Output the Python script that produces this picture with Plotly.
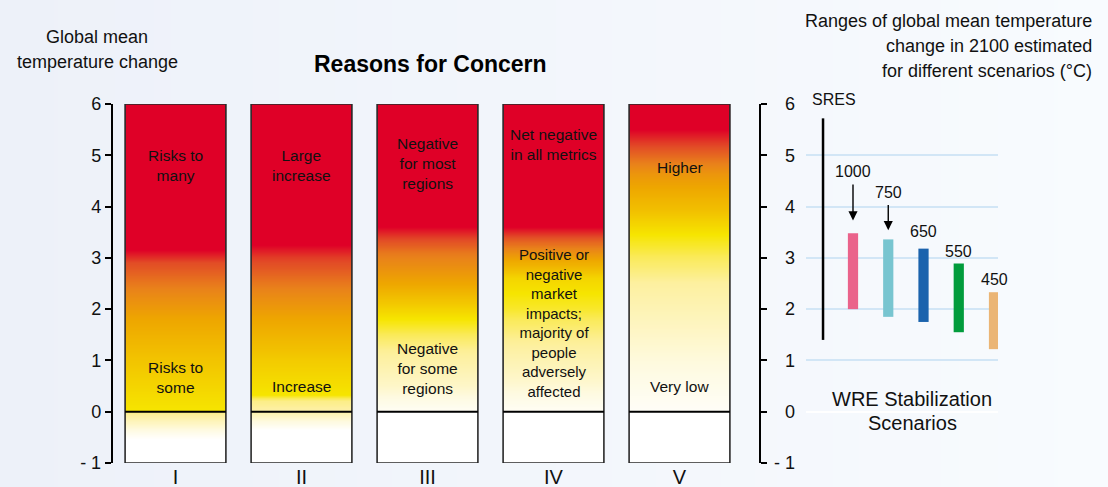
import base64
import struct
import zlib

import numpy as np
import plotly.graph_objects as go

# ---------------- data ----------------
concern_labels = ["I", "II", "III", "IV", "V"]

# gradient stops per reason for concern: (temperature change, risk level 0..1)
stops_I_temp = [-1.0, -0.55, -0.3, -0.001, 0.0, 1.0, 1.8, 2.4, 2.9, 3.15, 6.0]
stops_I_level = [0.0, 0.0, 0.15, 0.33, 0.5, 0.6, 0.7, 0.8, 0.9, 1.0, 1.0]
stops_II_temp = [-1.0, -0.36, -0.2, -0.001, 0.2, 0.32, 1.0, 1.8, 2.4, 3.0, 3.25, 6.0]
stops_II_level = [0.0, 0.0, 0.12, 0.26, 0.32, 0.5, 0.58, 0.7, 0.8, 0.92, 1.0, 1.0]
stops_III_temp = [-1.0, -0.001, 0.0, 0.5, 1.2, 1.8, 2.5, 3.1, 3.4, 3.6, 6.0]
stops_III_level = [0.0, 0.0, 0.04, 0.18, 0.3, 0.5, 0.7, 0.82, 0.92, 1.0, 1.0]
stops_IV_temp = [-1.0, -0.001, 0.0, 0.6, 1.4, 2.0, 2.6, 3.0, 3.3, 3.6, 6.0]
stops_IV_level = [0.0, 0.0, 0.04, 0.17, 0.3, 0.45, 0.55, 0.72, 0.85, 1.0, 1.0]
stops_V_temp = [-1.0, -0.001, 0.0, 0.9, 2.5, 3.45, 3.95, 4.65, 5.1, 5.5, 6.0]
stops_V_level = [0.0, 0.0, 0.03, 0.12, 0.28, 0.5, 0.62, 0.75, 0.88, 1.0, 1.0]

upper_text = ["Risks to<br>many", "Large<br>increase", "Negative<br>for most<br>regions",
              "Net negative<br>in all metrics", "Higher"]
upper_text_y = [4.8, 4.8, 4.84, 5.21, 4.77]
lower_text = ["Risks to<br>some", "Increase", "Negative<br>for some<br>regions",
              "Positive or<br>negative<br>market<br>impacts;<br>majority of<br>people<br>adversely<br>affected",
              "Very low"]
lower_text_y = [0.67, 0.5, 0.85, 1.73, 0.5]

sres_range = [1.4, 5.72]
wre_scenarios = ["1000", "750", "650", "550", "450"]
wre_low = [2.0, 1.85, 1.75, 1.55, 1.22]
wre_high = [3.48, 3.36, 3.18, 2.89, 2.33]
wre_colors = ["#ea638b", "#78c5d0", "#1b63ad", "#029c3c", "#ebb575"]

y_ticks = [-1, 0, 1, 2, 3, 4, 5, 6]
y_ticktext = ["- 1", "0", "1", "2", "3", "4", "5", "6"]

# ---------------- helpers ----------------
W, H = 1108, 487


def px_x(p):
    return p / W


def px_y(p):
    return 1 - p / H


def gradient_png(c0, c1, w=256):
    row = bytearray([0])
    for i in range(w):
        t = i / (w - 1)
        for a, b in zip(c0, c1):
            row.append(int(round(a + (b - a) * t)))
    raw = bytes(row)

    def chunk(tag, data):
        return (struct.pack(">I", len(data)) + tag + data +
                struct.pack(">I", zlib.crc32(tag + data) & 0xFFFFFFFF))

    ihdr = struct.pack(">IIBBBBB", w, 1, 8, 2, 0, 0, 0)
    png = (b"\x89PNG\r\n\x1a\n" + chunk(b"IHDR", ihdr) +
           chunk(b"IDAT", zlib.compress(raw)) + chunk(b"IEND", b""))
    return "data:image/png;base64," + base64.b64encode(png).decode()


FONT = "Liberation Sans, Arial, sans-serif"
y_dom = [px_y(463), px_y(104)]

fig = go.Figure()

# burning embers
all_stops = [(stops_I_temp, stops_I_level), (stops_II_temp, stops_II_level),
             (stops_III_temp, stops_III_level), (stops_IV_temp, stops_IV_level),
             (stops_V_temp, stops_V_level)]
y_edges = np.linspace(-1, 6, 701)
y_cent = (y_edges[:-1] + y_edges[1:]) / 2
half = 0.4
for i, (st, lv) in enumerate(all_stops):
    z = np.interp(y_cent, st, lv).reshape(-1, 1)
    fig.add_trace(go.Heatmap(x=[i - half, i + half], y=y_edges, z=z, coloraxis="coloraxis",
                             hoverinfo="skip", xaxis="x", yaxis="y"))

# dummy traces so overlay axes render
fig.add_trace(go.Scatter(x=[None], y=[None], xaxis="x", yaxis="y3", showlegend=False, hoverinfo="skip"))
fig.add_trace(go.Scatter(x=[None], y=[None], xaxis="x", yaxis="y4", showlegend=False, hoverinfo="skip"))

# right panel: SRES + WRE bars
fig.add_trace(go.Scatter(x=[0.15, 0.15], y=sres_range, mode="lines",
                         line=dict(color="black", width=2.5), xaxis="x2", yaxis="y2",
                         showlegend=False, hoverinfo="skip"))
fig.add_trace(go.Bar(x=list(range(1, len(wre_scenarios) + 1)),
                     y=[h - l for h, l in zip(wre_high, wre_low)], base=wre_low,
                     width=0.29, marker=dict(color=wre_colors, line=dict(width=0)),
                     xaxis="x2", yaxis="y2", showlegend=False, hoverinfo="skip"))

shapes = []
for i in range(len(concern_labels)):
    shapes.append(dict(type="rect", xref="x", yref="y", x0=i - half, x1=i + half, y0=-1, y1=6,
                       line=dict(color="#2a2a2a", width=1.6), fillcolor="rgba(0,0,0,0)"))
    shapes.append(dict(type="line", xref="x", yref="y", x0=i - half, x1=i + half, y0=0, y1=0,
                       line=dict(color="black", width=2)))

annotations = []
for i in range(len(concern_labels)):
    annotations.append(dict(x=i, y=upper_text_y[i], xref="x", yref="y", text=upper_text[i],
                            xanchor="center", showarrow=False,
                            font=dict(size=15.5, color="#111", family=FONT)))
    annotations.append(dict(x=i, y=lower_text_y[i], xref="x", yref="y", text=lower_text[i],
                            xanchor="center", showarrow=False,
                            font=dict(size=15.5 if i != 3 else 15, color="#111", family=FONT)))

# scenario labels and arrows
label_offsets = [4.69, 4.28, 3.52, 3.13, 2.58]
for k, name in enumerate(wre_scenarios):
    annotations.append(dict(x=k + 1, y=label_offsets[k], xref="x2", yref="y2", text=name,
                            xanchor="center", yanchor="middle", showarrow=False,
                            font=dict(size=16, color="#111", family=FONT)))
for k, (tail, tip) in enumerate([(4.46, 3.73), (4.06, 3.54)]):
    annotations.append(dict(x=k + 1, y=tip, ax=k + 1, ay=tail, xref="x2", yref="y2",
                            axref="x2", ayref="y2", text="", showarrow=True,
                            arrowhead=2, arrowsize=1.3, arrowwidth=1.4, arrowcolor="black"))
annotations.append(dict(x=0.15, y=px_y(100), xref="x2", yref="paper", text="SRES",
                        showarrow=False, xanchor="left", yanchor="middle", xshift=-13,
                        font=dict(size=16, color="#111", family=FONT)))

# titles
for txt, yy in [("Global mean", 37), ("temperature change", 62)]:
    annotations.append(dict(x=px_x(97), y=px_y(yy), xref="paper", yref="paper", text=txt,
                            xanchor="center", yanchor="middle", showarrow=False,
                            font=dict(size=18, color="#111", family=FONT)))
annotations.append(dict(x=px_x(430), y=px_y(64), xref="paper", yref="paper",
                        text="<b>Reasons for Concern</b>", xanchor="center", yanchor="middle",
                        showarrow=False, font=dict(size=23, color="#000", family=FONT)))
for txt, yy in [("Ranges of global mean temperature", 21),
                ("change in 2100 estimated", 46),
                ("for different scenarios (°C)", 71)]:
    annotations.append(dict(x=px_x(1094), y=px_y(yy), xref="paper", yref="paper", text=txt,
                            xanchor="right", yanchor="middle", showarrow=False,
                            font=dict(size=18, color="#111", family=FONT)))
for txt, yy in [("WRE Stabilization", 399), ("Scenarios", 423)]:
    annotations.append(dict(x=px_x(912), y=px_y(yy), xref="paper", yref="paper", text=txt,
                            xanchor="center", yanchor="middle", showarrow=False,
                            font=dict(size=20, color="#111", family=FONT)))

colorscale = [
    [0.0, "#ffffff"], [0.12, "#fefae0"], [0.28, "#fdf0a0"], [0.4, "#faea58"],
    [0.5, "#f6e500"], [0.6, "#f2c400"], [0.7, "#eea600"], [0.8, "#e9821a"],
    [0.9, "#e24c26"], [1.0, "#df0027"],
]

fig.update_layout(
    width=W, height=H,
    margin=dict(l=0, r=0, t=0, b=0, pad=0, autoexpand=False),
    paper_bgcolor="#f2f5fb",
    plot_bgcolor="rgba(0,0,0,0)",
    font=dict(family=FONT, color="#111"),
    showlegend=False,
    coloraxis=dict(colorscale=colorscale, cmin=0, cmax=1, showscale=False),
    images=[dict(source=gradient_png((237, 241, 249), (248, 251, 254)), xref="paper", yref="paper",
                 x=0, y=1, sizex=1, sizey=1, sizing="stretch", layer="below", xanchor="left",
                 yanchor="top")],
    xaxis=dict(domain=[px_x(112.5), px_x(742.5)], range=[-0.5, 4.5], anchor="y",
               tickvals=list(range(len(concern_labels))), ticktext=concern_labels,
               tickfont=dict(size=20, color="#111"), showgrid=False, zeroline=False,
               showline=False, ticks="", automargin=False),
    yaxis=dict(domain=y_dom, range=[-1, 6], anchor="x", tickvals=y_ticks, ticktext=y_ticktext,
               ticks="outside", ticklen=6, tickcolor="black", tickwidth=1.5,
               showline=True, linecolor="black", linewidth=1.5, showgrid=False, zeroline=False,
               tickfont=dict(size=18, color="#111"), automargin=False),
    xaxis2=dict(domain=[px_x(806), px_x(998)], range=[-0.333, 5.113], anchor="y2",
                visible=False, automargin=False),
    yaxis2=dict(domain=y_dom, range=[-1, 6], anchor="x2", tickvals=[0, 1, 2, 3, 4, 5],
                showticklabels=False, ticks="", showgrid=True, gridcolor="#d2e6f6", gridwidth=1.5,
                zeroline=True, zerolinecolor="#ffffff", zerolinewidth=2, showline=False,
                automargin=False),
    yaxis3=dict(overlaying="y", anchor="free", position=px_x(760), side="right", range=[-1, 6],
                tickvals=y_ticks, showticklabels=False, ticks="outside", ticklen=6,
                tickcolor="black", tickwidth=1.5, showline=True, linecolor="black", linewidth=1.5,
                showgrid=False, zeroline=False, automargin=False),
    yaxis4=dict(overlaying="y", anchor="free", position=px_x(795), side="left", range=[-1, 6],
                tickvals=y_ticks, ticktext=y_ticktext, ticks="", showline=False, showgrid=False,
                zeroline=False, tickfont=dict(size=18, color="#111"), automargin=False),
    shapes=shapes,
    annotations=annotations,
)

fig.write_html("out.html", config={"displayModeBar": False},
               post_script="document.body.style.margin='0';document.body.style.overflow='hidden';")
